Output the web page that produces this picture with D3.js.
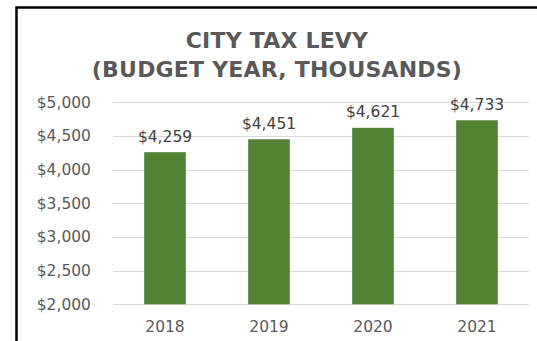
<!DOCTYPE html>
<html>
<head>
<meta charset="utf-8">
<script src="https://cdn.jsdelivr.net/npm/d3@7"></script>
<style>
  html, body { margin: 0; padding: 0; background: #fff; }
  svg { display: block; }
</style>
</head>
<body>
<svg id="chart" width="537" height="341"></svg>
<script>
// City tax levy by budget year, in thousands of dollars
const years = ["2018", "2019", "2020", "2021"];
const levy = [4259, 4451, 4621, 4733];
const yTicks = [2000, 2500, 3000, 3500, 4000, 4500, 5000];
const titleLines = ["CITY TAX LEVY", "(BUDGET YEAR, THOUSANDS)"];

const svg = d3.select("#chart");
const W = 537, H = 341;

// frame around the chart area
svg.append("rect")
  .attr("x", 16.5).attr("y", 7.5)
  .attr("width", W + 20).attr("height", H + 20)
  .attr("fill", "#fff")
  .attr("stroke", "#000").attr("stroke-width", 2.5);

const plot = { left: 113, right: 529, top: 102.3, bottom: 304.3 };

const x = d3.scaleBand()
  .domain(years)
  .range([plot.left, plot.right])
  .paddingInner(0.6)
  .paddingOuter(0.3);

const y = d3.scaleLinear()
  .domain([2000, 5000])
  .range([plot.bottom, plot.top]);

// title
svg.append("g")
  .selectAll("text")
  .data(titleLines)
  .join("text")
  .attr("x", 277)
  .attr("y", (d, i) => 48 + i * 29)
  .attr("text-anchor", "middle")
  .attr("font-family", "'DejaVu Sans', sans-serif")
  .attr("font-weight", "bold")
  .attr("font-size", 22)
  .attr("letter-spacing", 0.2)
  .attr("fill", "#595959")
  .text(d => d);

// horizontal gridlines
svg.append("g")
  .selectAll("line")
  .data(yTicks)
  .join("line")
  .attr("x1", plot.left).attr("x2", plot.right)
  .attr("y1", d => Math.round(y(d)) + 0.5)
  .attr("y2", d => Math.round(y(d)) + 0.5)
  .attr("stroke", "#d9d9d9").attr("stroke-width", 1);

// y axis labels
const yAxis = d3.axisLeft(y)
  .tickValues(yTicks)
  .tickSize(0)
  .tickPadding(0)
  .tickFormat(d => "$" + d3.format(",")(d));
svg.append("g")
  .attr("transform", `translate(91,0)`)
  .call(yAxis)
  .call(g => g.select(".domain").remove())
  .selectAll("text")
  .attr("font-family", "'DejaVu Sans', sans-serif")
  .attr("font-size", 15.5)
  .attr("fill", "#595959");

// x axis labels
const xAxis = d3.axisBottom(x).tickSize(0).tickPadding(0);
svg.append("g")
  .attr("transform", `translate(0,${plot.bottom})`)
  .call(xAxis)
  .call(g => g.select(".domain").remove())
  .selectAll("text")
  .attr("dy", null)
  .attr("y", 28)
  .attr("font-family", "'DejaVu Sans', sans-serif")
  .attr("font-size", 15.5)
  .attr("fill", "#595959");

// bars
const data = years.map((yr, i) => ({ year: yr, value: levy[i] }));
svg.append("g")
  .selectAll("rect")
  .data(data)
  .join("rect")
  .attr("x", d => x(d.year))
  .attr("width", x.bandwidth())
  .attr("y", d => y(d.value))
  .attr("height", d => y(2000) - y(d.value))
  .attr("fill", "#548235");

// value labels above bars
svg.append("g")
  .selectAll("text")
  .data(data)
  .join("text")
  .attr("x", d => x(d.year) + x.bandwidth() / 2)
  .attr("y", d => y(d.value) - 10.5)
  .attr("text-anchor", "middle")
  .attr("font-family", "'DejaVu Sans', sans-serif")
  .attr("font-size", 15.5)
  .attr("fill", "#404040")
  .text(d => "$" + d3.format(",")(d.value));
</script>
</body>
</html>
